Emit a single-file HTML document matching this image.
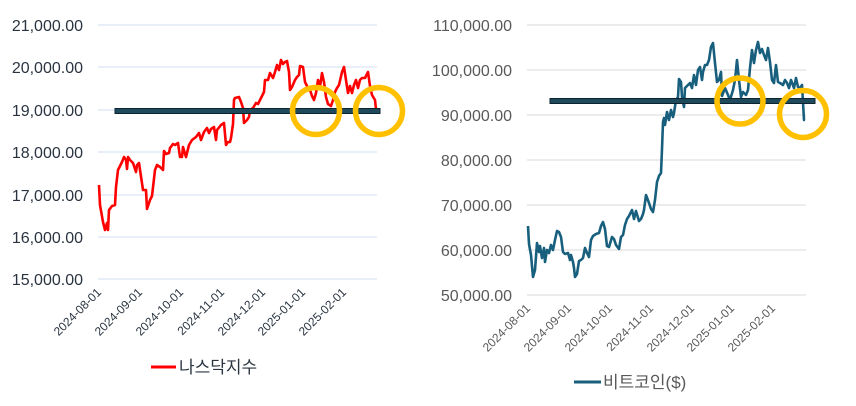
<!DOCTYPE html>
<html><head><meta charset="utf-8"><style>
body{margin:0;background:#fff;width:856px;height:401px;overflow:hidden}
text{font-family:"Liberation Sans","Noto Sans CJK KR",sans-serif}
</style></head><body>
<svg width="856" height="401" viewBox="0 0 856 401" xmlns="http://www.w3.org/2000/svg">
<g stroke="#d3dff0" stroke-width="1">
<line x1="98" x2="377" y1="25" y2="25"/><line x1="98" x2="377" y1="67" y2="67"/><line x1="98" x2="377" y1="110" y2="110"/><line x1="98" x2="377" y1="152" y2="152"/><line x1="98" x2="377" y1="195" y2="195"/><line x1="98" x2="377" y1="237" y2="237"/><line x1="98" x2="377" y1="279" y2="279"/>
</g>
<g stroke="#d9d9d9" stroke-width="1">
<line x1="527" x2="806" y1="25" y2="25"/><line x1="527" x2="806" y1="70" y2="70"/><line x1="527" x2="806" y1="115" y2="115"/><line x1="527" x2="806" y1="160" y2="160"/><line x1="527" x2="806" y1="205" y2="205"/><line x1="527" x2="806" y1="250" y2="250"/><line x1="527" x2="806" y1="295" y2="295"/>
</g>
<g font-size="16" fill="#2a3440" text-anchor="end">
<text x="83" y="31">21,000.00</text><text x="83" y="73">20,000.00</text><text x="83" y="116">19,000.00</text><text x="83" y="158">18,000.00</text><text x="83" y="201">17,000.00</text><text x="83" y="243">16,000.00</text><text x="83" y="285">15,000.00</text>
</g>
<g font-size="16" fill="#595959" text-anchor="end">
<text x="512" y="31">110,000.00</text><text x="512" y="76">100,000.00</text><text x="512" y="121">90,000.00</text><text x="512" y="166">80,000.00</text><text x="512" y="211">70,000.00</text><text x="512" y="256">60,000.00</text><text x="512" y="301">50,000.00</text>
</g>
<g font-size="12" fill="#2a3440" text-anchor="end">
<text transform="translate(102,293) rotate(-45)">2024-08-01</text><text transform="translate(143,293) rotate(-45)">2024-09-01</text><text transform="translate(184,293) rotate(-45)">2024-10-01</text><text transform="translate(225,293) rotate(-45)">2024-11-01</text><text transform="translate(266,293) rotate(-45)">2024-12-01</text><text transform="translate(306,293) rotate(-45)">2025-01-01</text><text transform="translate(347,293) rotate(-45)">2025-02-01</text>
</g>
<g font-size="12" fill="#595959" text-anchor="end">
<text transform="translate(531,309) rotate(-45)">2024-08-01</text><text transform="translate(572,309) rotate(-45)">2024-09-01</text><text transform="translate(613,309) rotate(-45)">2024-10-01</text><text transform="translate(654,309) rotate(-45)">2024-11-01</text><text transform="translate(695,309) rotate(-45)">2024-12-01</text><text transform="translate(735,309) rotate(-45)">2025-01-01</text><text transform="translate(776,309) rotate(-45)">2025-02-01</text>
</g>
<polyline fill="none" stroke="#ff0000" stroke-width="2.6" stroke-linejoin="round" points="99,185 100,205 103,222 105,230 107,223 108,230 109,210 112,206 115,205 116,187 118,170 122,162 124,157 126,160 127,169 128,157 130,160 133,163 136,172 137,165 139,163 143,190 146,190 147,209 150,200 152,196 155,170 157,165 160,167 163,170 164,151 166,154 169,153 170,148 173,144 175,145 178,143 180,157 182,157 183,147 186,157 189,145 192,140 196,137 199,133 201,140 204,132 207,128 209,133 211,129 214,127 216,140 217,130 221,125 224,123 226,145 228,142 230,142 231,138 233,124 234,100 235,98 239,97 241,102 243,108 244,123 247,120 249,117 250,110 253,108 256,103 258,104 261,98 264,92 265,80 268,80 270,73 273,78 275,72 277,65 279,70 281,60 283,64 285,62 287,61 289,72 290,90 292,87 295,80 297,77 299,75 300,66 303,67 305,82 307,86 310,90 312,96 314,100 316,93 318,80 320,87 322,73 324,82 326,97 328,104 331,106 333,100 335,92 337,88 339,85 342,72 344,67 346,80 348,93 350,86 352,93 354,85 356,80 358,88 360,80 362,78 365,78 368,72 370,86 372,95 375,100 376,109"/>
<rect x="115" y="108.5" width="265" height="5" fill="#1f4a5c" stroke="#0d2430" stroke-width="1"/>
<circle cx="316" cy="111" r="23.5" fill="none" stroke="#ffc000" stroke-width="5.5"/>
<circle cx="379" cy="111" r="23.5" fill="none" stroke="#ffc000" stroke-width="5.5"/>
<polyline fill="none" stroke="#185f7e" stroke-width="2.6" stroke-linejoin="round" transform="translate(428,0)" points="100,226 101,244 103,255 105,277 107,270 109,243 111,252 112,246 114,258 116,248 117,262 119,250 121,253 123,245 125,250 127,240 129,231 131,232 133,237 135,252 137,254 140,253 142,260 143,255 145,262 146,268 147,277 149,274 151,261 153,260 155,258 157,248 159,253 161,257 163,240 165,236 168,234 171,233 173,226 175,222 177,229 179,246 181,247 184,237 186,239 188,245 191,249 193,237 195,235 197,225 199,219 201,216 204,210 206,219 208,211 211,221 213,219 215,214 216,210 218,195 221,203 223,209 225,212 227,200 229,182 231,176 233,173 234,149 235,122 236,118 237,125 239,112 241,120 243,110 245,117 246,113 248,100 250,97 251,79 253,82 254,97 256,107 257,88 260,85 262,83 264,88 266,75 268,85 270,70 272,67 274,80 275,72 277,65 279,65 281,60 283,47 285,43 287,63 289,82 291,80 293,72 294,96 297,88 300,95 302,100 305,90 307,80 309,60 311,80 313,97 315,92 318,95 320,90 322,68 324,50 326,63 328,50 330,42 332,53 334,49 336,55 338,60 340,48 342,62 344,80 346,83 348,65 350,82 352,83 355,85 357,80 359,83 361,88 363,80 366,88 368,78 370,87 372,88 374,85 376,120 377,120"/>
<rect x="550" y="98.5" width="265" height="5" fill="#1f4a5c" stroke="#0d2430" stroke-width="1"/>
<circle cx="740" cy="101" r="23" fill="none" stroke="#ffc000" stroke-width="5.5"/>
<circle cx="803" cy="114" r="23.5" fill="none" stroke="#ffc000" stroke-width="5.5"/>
<line x1="151" x2="176" y1="367" y2="367" stroke="#ff0000" stroke-width="3"/>
<text x="179" y="373" font-size="17" fill="#2a3440">나스닥지수</text>
<line x1="574" x2="601" y1="382" y2="382" stroke="#185f7e" stroke-width="3"/>
<text x="603" y="388" font-size="17" fill="#595959">비트코인($)</text>
</svg>
</body></html>
